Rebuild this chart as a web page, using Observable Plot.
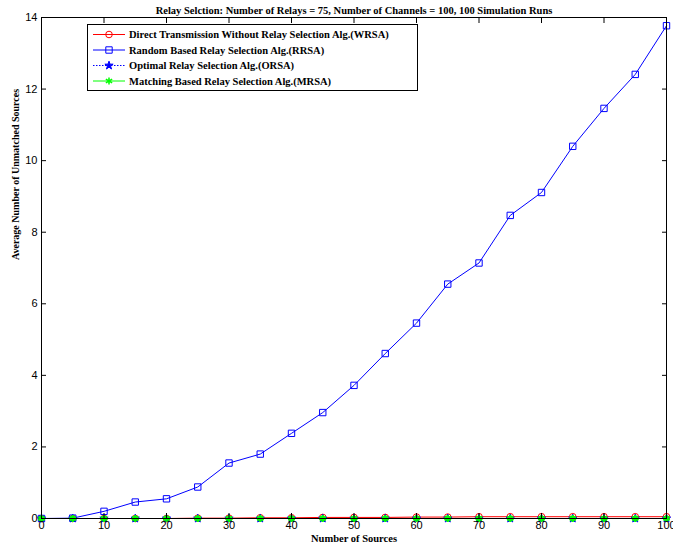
<!DOCTYPE html>
<html>
<head>
<meta charset="utf-8">
<script src="https://cdn.jsdelivr.net/npm/d3@7"></script>
<script src="https://cdn.jsdelivr.net/npm/@observablehq/plot@0.6"></script>
<style>
  html, body { margin: 0; padding: 0; background: #fff; }
  #chart { position: relative; width: 673px; height: 550px; }
</style>
</head>
<body>
<div id="chart"></div>
<script>
const titleText = "Relay Selction: Number of Relays = 75, Number of Channels = 100, 100 Simulation Runs";
const xLabel = "Number of Sources";
const yLabel = "Average Number of Unmatched Sources";

const sources = [0, 5, 10, 15, 20, 25, 30, 35, 40, 45, 50, 55, 60, 65, 70, 75, 80, 85, 90, 95, 100];
const wrsa = [0, 0, 0, 0, 0, 0.01, 0.01, 0.02, 0.02, 0.03, 0.03, 0.03, 0.04, 0.04, 0.05, 0.05, 0.05, 0.05, 0.05, 0.05, 0.05];
const rrsa = [0, 0.01, 0.20, 0.46, 0.55, 0.88, 1.55, 1.80, 2.38, 2.96, 3.72, 4.61, 5.46, 6.55, 7.14, 8.47, 9.11, 10.40, 11.46, 12.41, 13.77];
const orsa = [0, 0, 0, 0, 0, 0, 0, 0, 0, 0, 0, 0, 0, 0, 0, 0, 0, 0, 0, 0, 0];
const mrsa = [0, 0, 0, 0, 0, 0, 0, 0, 0, 0, 0, 0, 0, 0, 0, 0, 0, 0, 0, 0, 0];

const seriesNames = [
  "Direct Transmission Without Relay Selection Alg.(WRSA)",
  "Random Based Relay Selection Alg.(RRSA)",
  "Optimal Relay Selection Alg.(ORSA)",
  "Matching Based Relay Selection Alg.(MRSA)"
];
const seriesValues = [wrsa, rrsa, orsa, mrsa];
const seriesColors = ["#ff0000", "#0000ff", "#0000ff", "#00ff00"];
const seriesSymbols = ["circle", "square", "star", "asterisk"];
const seriesDash = [null, null, "1.5,1.5", null];
const seriesR = [3.3, 3.6, 2.6, 3.4];

const xTicks = [0, 10, 20, 30, 40, 50, 60, 70, 80, 90, 100];
const yTicks = [0, 2, 4, 6, 8, 10, 12, 14];

const seriesData = seriesValues.map(vals => sources.map((s, i) => ({x: s, y: vals[i]})));

const marks = [];
seriesData.forEach((d, k) => {
  marks.push(Plot.line(d, {x: "x", y: "y", stroke: seriesColors[k], strokeWidth: 1, strokeDasharray: seriesDash[k]}));
  const sym = seriesSymbols[k];
  marks.push(Plot.dot(d, {
    x: "x", y: "y", symbol: sym,
    r: seriesR[k],
    stroke: seriesColors[k],
    fill: sym === "star" ? seriesColors[k] : "none",
    strokeWidth: sym === "asterisk" ? 2.2 : 1
  }));
});

const serif = "Liberation Serif, Times New Roman, serif";

const chart = Plot.plot({
  width: 673,
  height: 550,
  marginTop: 17,
  marginBottom: 32,
  marginLeft: 41,
  marginRight: 7,
  style: {fontFamily: "Liberation Sans, Arial, sans-serif", fontSize: "11px", background: "#fff", color: "#000"},
  x: {domain: [0, 100]},
  y: {domain: [0, 14]},
  marks: [
    ...marks,
    Plot.frame({stroke: "#000", strokeWidth: 1}),
    Plot.axisX(xTicks, {anchor: "bottom", tickSize: -5, tickPadding: 8, label: null, fontSize: 11}),
    Plot.axisX(xTicks, {anchor: "top", tickSize: -5, tickFormat: () => "", label: null}),
    Plot.axisY(yTicks, {anchor: "left", tickSize: -5, tickPadding: 9, label: null, fontSize: 11}),
    Plot.axisY(yTicks, {anchor: "right", tickSize: -5, tickFormat: () => "", label: null}),
    Plot.text([titleText], {frameAnchor: "top", dy: -11, fontFamily: serif, fontWeight: "bold", fontSize: 10.5}),
    Plot.text([xLabel], {frameAnchor: "bottom", dy: 23, fontFamily: serif, fontWeight: "bold", fontSize: 10.5}),
    Plot.text([yLabel], {frameAnchor: "left", dx: -26, dy: -8, rotate: -90, fontFamily: serif, fontWeight: "bold", fontSize: 10})
  ]
});
document.getElementById("chart").appendChild(chart);

// Legend inside the axes (MATLAB style, top-left)
const svg = d3.select(chart);
const lg = svg.append("g").attr("transform", "translate(87,24)");
lg.append("rect").attr("x", 0.5).attr("y", 0.5).attr("width", 330).attr("height", 66)
  .attr("fill", "#fff").attr("stroke", "#000").attr("stroke-width", 1);
const rowY = [10.5, 26, 41.5, 57];
const symMap = {circle: d3.symbolCircle, square: d3.symbolSquare, star: d3.symbolStar, asterisk: d3.symbolAsterisk};
seriesNames.forEach((name, k) => {
  const g = lg.append("g").attr("transform", `translate(0,${rowY[k]})`);
  g.append("line").attr("x1", 6).attr("x2", 38).attr("y1", 0).attr("y2", 0)
    .attr("stroke", seriesColors[k]).attr("stroke-width", 1)
    .attr("stroke-dasharray", seriesDash[k]);
  const r = seriesR[k];
  g.append("path").attr("transform", "translate(22,0)")
    .attr("d", d3.symbol(symMap[seriesSymbols[k]], Math.PI * r * r)())
    .attr("fill", seriesSymbols[k] === "star" ? seriesColors[k] : "none")
    .attr("stroke", seriesColors[k])
    .attr("stroke-width", seriesSymbols[k] === "asterisk" ? 1.5 : 1);
  g.append("text").attr("x", 42).attr("y", 0).attr("dy", "0.35em")
    .attr("text-anchor", "start")
    .attr("font-family", serif)
    .attr("font-weight", "bold").attr("font-size", "10.5px").attr("fill", "#000")
    .text(name);
});
</script>
</body>
</html>
